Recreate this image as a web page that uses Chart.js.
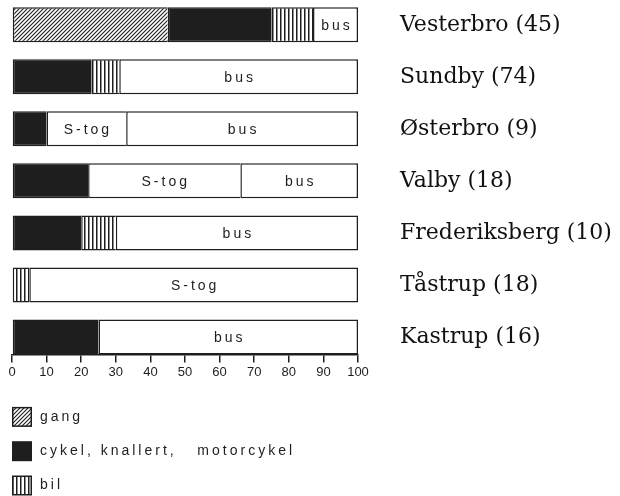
<!DOCTYPE html>
<html>
<head>
<meta charset="utf-8">
<script src="https://cdn.jsdelivr.net/npm/chart.js@4"></script>
<style>
	html, body { margin: 0; padding: 0; background: #fff; }
</style>
</head>
<body>
<canvas id="chart" width="620" height="496"></canvas>
<script>
const districts = ["Vesterbro", "Sundby", "Østerbro", "Valby", "Frederiksberg", "Tåstrup", "Kastrup"];
const counts = [45, 74, 9, 18, 10, 18, 16];

// procent af turene, i rækkefølge gang / cykel / bil / S-tog / bus
const gang = [45, 0, 0, 0, 0, 0, 0];
const cykel = [30, 23, 10, 22, 20, 0, 25];
const bil = [12, 8, 0, 0, 10, 5, 0];
const stog = [0, 0, 23, 44, 0, 95, 0];
const bus = [13, 69, 67, 34, 70, 0, 75];

const percentTicks = [0, 10, 20, 30, 40, 50, 60, 70, 80, 90, 100];

const ink = "#1e1e1e";

function makePattern(w, h, draw) {
	const c = document.createElement("canvas");
	c.width = w;
	c.height = h;
	const g = c.getContext("2d");
	g.fillStyle = "#fff";
	g.fillRect(0, 0, w, h);
	draw(g);
	return g.createPattern(c, "repeat");
}

const hatch = makePattern(4, 4, (g) => {
	g.strokeStyle = ink;
	g.lineWidth = 1.1;
	g.beginPath();
	g.moveTo(-1, 5); g.lineTo(5, -1);
	g.moveTo(-1, 1); g.lineTo(1, -1);
	g.moveTo(3, 5); g.lineTo(5, 3);
	g.stroke();
});

const stripes = makePattern(4, 4, (g) => {
	g.fillStyle = ink;
	g.fillRect(0, 0, 1.5, 4);
});

const series = [
	{ label: "gang", data: gang, fill: hatch },
	{ label: "cykel, knallert,   motorcykel", data: cykel, fill: ink },
	{ label: "bil", data: bil, fill: stripes },
	{ label: "S-tog", data: stog, fill: "#fff" },
	{ label: "bus", data: bus, fill: "#fff" },
];

// sidste synlige segment i hver række får højre kant
const lastSeg = districts.map((d, i) => {
	let last = 0;
	series.forEach((s, k) => { if (s.data[i] > 0) last = k; });
	return last;
});

const rowLabels = districts.map((d, i) => d + " (" + counts[i] + ")");

const segmentText = {
	id: "segmentText",
	afterDatasetsDraw(chart) {
		const ctx = chart.ctx;
		ctx.save();
		ctx.font = "14px 'Liberation Sans', Arial, sans-serif";
		ctx.fillStyle = ink;
		ctx.textAlign = "center";
		ctx.textBaseline = "middle";
		ctx.letterSpacing = "3px";
		[3, 4].forEach((k) => {
			const meta = chart.getDatasetMeta(k);
			meta.data.forEach((bar, i) => {
				if (!(series[k].data[i] > 0)) return;
				const { x, y, base } = bar.getProps(["x", "y", "base"], true);
				ctx.fillText(series[k].label, (x + base) / 2 + 1.5, y + 1);
			});
		});
		ctx.restore();
	},
};

const patternLegend = {
	id: "patternLegend",
	afterDraw(chart) {
		const ctx = chart.ctx;
		const left = chart.chartArea.left;
		const top0 = chart.scales.x.top + 52.5;
		ctx.save();
		ctx.font = "14px 'Liberation Sans', Arial, sans-serif";
		ctx.textBaseline = "middle";
		ctx.textAlign = "left";
		ctx.letterSpacing = "3px";
		for (let k = 0; k < 3; k++) {
			const top = top0 + k * 34.3;
			ctx.fillStyle = ink;
			ctx.fillRect(left, top, 20, 20);
			ctx.fillStyle = series[k].fill;
			ctx.fillRect(left + 1.5, top + 1.5, 17, 17);
			ctx.fillStyle = ink;
			ctx.fillText(series[k].label, left + 28, top + 10);
		}
		ctx.restore();
	},
};

new Chart(document.getElementById("chart"), {
	type: "bar",
	data: {
		datasets: series.map((s) => ({
			label: s.label,
			data: s.data.map((v, i) => ({ x: v, y: i })),
			backgroundColor: s.fill,
			borderColor: ink,
			borderSkipped: false,
			borderWidth: (c) => ({
				top: 1.5,
				bottom: 1.5,
				left: 1.5,
				right: c.datasetIndex === lastSeg[c.dataIndex] ? 1.5 : 0,
			}),
			barPercentage: 0.673,
			categoryPercentage: 1,
		})),
	},
	options: {
		indexAxis: "y",
		responsive: false,
		animation: false,
		layout: { padding: { top: 0, left: 12, right: 0, bottom: 114 } },
		plugins: {
			legend: { display: false },
			tooltip: { enabled: false },
		},
		scales: {
			x: {
				type: "linear",
				position: "bottom",
				stacked: true,
				min: 0,
				max: 100,
				afterBuildTicks: (scale) => {
					scale.ticks = percentTicks.map((v) => ({ value: v }));
				},
				grid: { drawOnChartArea: false, drawTicks: true, tickLength: 8, color: ink, lineWidth: 1.5 },
				border: { display: true, color: ink, width: 1.5 },
				ticks: {
					padding: 2,
					color: ink,
					maxRotation: 0,
					autoSkip: false,
					font: { family: "'Liberation Sans', Arial, sans-serif", size: 13 },
				},
			},
			y: {
				type: "linear",
				position: "right",
				stacked: true,
				reverse: true,
				offset: false,
				min: -0.477,
				max: 6.336,
				afterBuildTicks: (scale) => {
					scale.ticks = districts.map((d, i) => ({ value: i }));
				},
				afterFit: (scale) => {
					scale.width = 262;
					scale.paddingTop = 0;
					scale.paddingBottom = 0;
				},
				grid: { display: false, drawTicks: false },
				border: { display: false },
				ticks: {
					padding: 42,
					color: "#111",
					autoSkip: false,
					font: { family: "'DejaVu Serif', serif", size: 22 },
					callback: (value) => rowLabels[value],
				},
			},
		},
	},
	plugins: [segmentText, patternLegend],
});
</script>
</body>
</html>
